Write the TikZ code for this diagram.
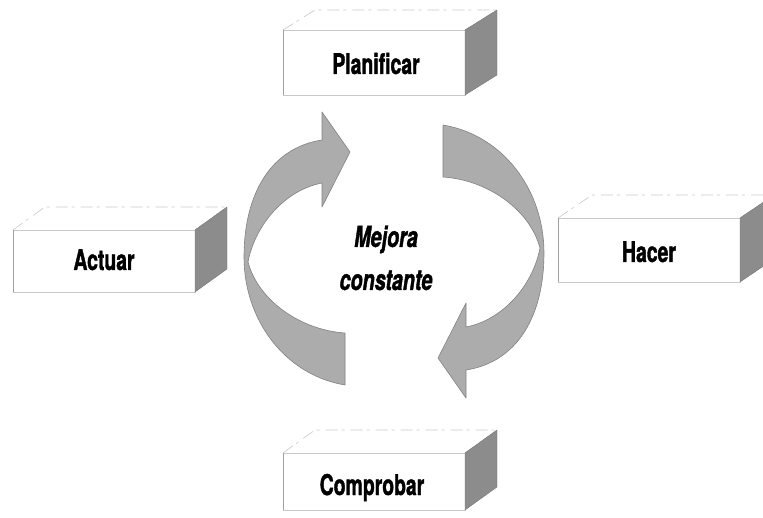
\documentclass[tikz,border=0pt]{standalone}
\usepackage{fontspec}
\newfontfamily\condf[FakeStretch=0.68,FakeBold=1.3]{TeX Gyre Heros}
\usetikzlibrary{calc}
\definecolor{sidegray}{RGB}{140,140,140}
\definecolor{arrowgray}{RGB}{172,172,172}
\definecolor{arrowline}{RGB}{130,130,130}
\definecolor{edgegray}{RGB}{200,200,200}
\tikzset{
  sideface/.style={fill=sidegray, draw=sidegray!85!black, line width=0.4pt},
  frontface/.style={draw=edgegray, line width=0.7pt},
  topface/.style={draw=edgegray, line width=0.6pt, dash pattern=on 12pt off 4pt on 3pt off 6pt},
  boxlabel/.style={font=\condf\bfseries\fontsize{28.5}{30}\selectfont, anchor=base, inner sep=0pt},
  centerlabel/.style={font=\condf\bfseries\itshape\fontsize{29}{43}\selectfont, anchor=base, inner sep=0pt},
  cyclearrow/.style={fill=arrowgray, draw=arrowline, line width=0.6pt, line join=round}
}
% x1 y1 x2 y2 dx dy
\newcommand\cubebox[6]{%
  \draw[topface] (#1,#2) -- ++(#5,#6) -- ++({#3-#1},0) -- (#3,#2);
  \draw[frontface] (#1,#2) rectangle (#3,#4);
  \draw[draw=edgegray!80!black, line width=0.8pt] (#1,#2) -- (#1,#4);
  \filldraw[sideface] (#3,#2) -- ++(#5,#6) -- ++(0,{#4-#2}) -- (#3,#4) -- cycle;
}
\begin{document}
\begin{tikzpicture}[x=1pt,y=-1pt]
\useasboundingbox (0,0) rectangle (763,518);
\begin{scope}
\clip (0,0) rectangle (763,518);
% boxes
\cubebox{283}{30}{465}{95}{32}{-20}
\cubebox{13}{230}{195}{292}{32}{-23}
\cubebox{283}{453}{465}{510}{32}{-23}
\cubebox{558}{218}{740}{282}{34}{-23}
\end{scope}
% labels
\node[boxlabel] (plan) at (376,74) {Planificar};
\node[boxlabel] (hacer) at (649,262) {Hacer};
\node[boxlabel] (comp) at (372,495) {Comprobar};
\node[boxlabel] (act) at (104,270) {Actuar};
\node[centerlabel] (mejora) at (386,247) {Mejora};
\node[centerlabel] (const) at (386,290) {constante};
% cycle arrows
\newcommand\cyclearrowpath{%
  \filldraw[cyclearrow] (345,333) .. controls (300,330) and (258,300) .. (248,262)
    .. controls (255,225) and (285,190) .. (322,183)
    -- (322,207) -- (350,152) -- (322,112) -- (322,140)
    .. controls (270,148) and (244,195) .. (244,257)
    .. controls (244,320) and (285,375) .. (345,385) -- cycle;
}
\cyclearrowpath
\begin{scope}[rotate around={180:(394,255)}]
\cyclearrowpath
\end{scope}
\end{tikzpicture}
\end{document}
